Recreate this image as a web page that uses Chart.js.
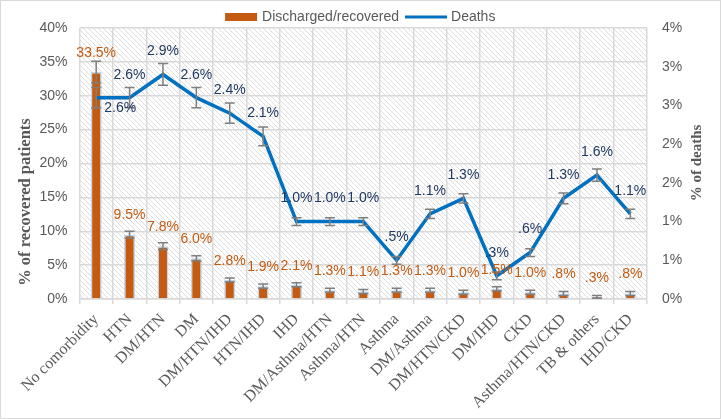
<!DOCTYPE html>
<html>
<head>
<meta charset="utf-8">
<title>Comorbidity outcomes</title>
<script src="https://cdn.jsdelivr.net/npm/chart.js@4.4.1/dist/chart.umd.min.js"></script>
<style>
  html, body { margin: 0; padding: 0; background: #fff; }
  .box { width: 719px; height: 417px; border: 1px solid #d9d9d9; }
  canvas { display: block; }
</style>
</head>
<body>
<div class="box"><canvas id="comorbChart" width="719" height="417"></canvas></div>
<script>
// data
const categories = [
  "No comorbidity", "HTN", "DM/HTN", "DM", "DM/HTN/IHD", "HTN/IHD", "IHD",
  "DM/Asthma/HTN", "Asthma/HTN", "Asthma", "DM/Asthma", "DM/HTN/CKD",
  "DM/IHD", "CKD", "Asthma/HTN/CKD", "TB & others", "IHD/CKD"
];
const recovered = [33.5, 9.5, 7.8, 6.0, 2.8, 1.9, 2.1, 1.3, 1.1, 1.3, 1.3, 1.0, 1.5, 1.0, 0.8, 0.3, 0.8];
const recoveredErr = [1.6, 0.5, 0.5, 0.4, 0.3, 0.3, 0.3, 0.3, 0.3, 0.3, 0.3, 0.3, 0.3, 0.3, 0.3, 0.2, 0.3];
const deaths = [2.6, 2.6, 2.9, 2.6, 2.4, 2.1, 1.0, 1.0, 1.0, 0.5, 1.1, 1.3, 0.3, 0.6, 1.3, 1.6, 1.1];
const deathsErr = [0.13, 0.13, 0.14, 0.13, 0.13, 0.12, 0.05, 0.05, 0.05, 0.05, 0.06, 0.06, 0.05, 0.05, 0.07, 0.08, 0.06];
const leftTicks = { min: 0, max: 40, step: 5 };
const rightTicks = { min: 0, max: 3.5, step: 0.5 };

const ORANGE = "#C55A11";
const BLUE = "#0070C0";
const NAVY = "#203864";
const GREY_TXT = "#595959";
const GRID = "#d9d9d9";
const SANS = "'Liberation Sans', Arial, sans-serif";
const SERIF = "'Liberation Serif', 'Times New Roman', serif";

// percent label like excel: 0.5 -> ".5%", 2.6 -> "2.6%"
const pctLabel = (v) => v.toFixed(1).replace(/^0\./, ".") + "%";

function makeHatch() {
  const c = document.createElement("canvas");
  c.width = 5;
  c.height = 5;
  const g = c.getContext("2d");
  g.strokeStyle = "#dedede";
  g.lineWidth = 1;
  g.beginPath();
  g.moveTo(-1, -1); g.lineTo(6, 6);
  g.moveTo(-1, 4); g.lineTo(1, 6);
  g.moveTo(4, -1); g.lineTo(6, 1);
  g.stroke();
  return c;
}

function errBar(ctx, x, yTop, yBot) {
  ctx.beginPath();
  ctx.moveTo(x, yTop); ctx.lineTo(x, yBot);
  ctx.moveTo(x - 5, yTop); ctx.lineTo(x + 5, yTop);
  ctx.moveTo(x - 5, yBot); ctx.lineTo(x + 5, yBot);
  ctx.stroke();
}

const extras = {
  id: "extras",
  beforeDraw(chart) {
    const { ctx, chartArea: a } = chart;
    ctx.save();
    ctx.fillStyle = ctx.createPattern(makeHatch(), "repeat");
    ctx.fillRect(a.left, a.top, a.right - a.left, a.bottom - a.top);
    ctx.restore();
  },
  afterDatasetDraw(chart, args) {
    const { ctx } = chart;
    const meta = args.meta;
    const isBar = args.index === 0;
    const scale = chart.scales[isBar ? "y" : "y1"];
    const vals = isBar ? recovered : deaths;
    const errs = isBar ? recoveredErr : deathsErr;
    ctx.save();
    ctx.strokeStyle = "#7f7f7f";
    ctx.lineWidth = 1.5;
    meta.data.forEach((el, i) => {
      errBar(ctx, el.x, scale.getPixelForValue(vals[i] + errs[i]), scale.getPixelForValue(vals[i] - errs[i]));
    });
    ctx.restore();
  },
  afterDatasetsDraw(chart) {
    const { ctx } = chart;
    const bars = chart.getDatasetMeta(0).data;
    const pts = chart.getDatasetMeta(1).data;
    ctx.save();
    ctx.font = "14px " + SANS;
    ctx.textAlign = "center";
    ctx.textBaseline = "middle";
    ctx.fillStyle = ORANGE;
    bars.forEach((el, i) => ctx.fillText(pctLabel(recovered[i]), el.x, el.y - 19));
    ctx.fillStyle = NAVY;
    pts.forEach((el, i) => {
      // first label sits to the lower right of its point, the rest above
      if (i === 0) ctx.fillText(pctLabel(deaths[i]), el.x + 24, el.y + 10);
      else ctx.fillText(pctLabel(deaths[i]), el.x, el.y - 23);
    });
    ctx.restore();
  },
  afterDraw(chart) {
    const { ctx, chartArea: a } = chart;
    ctx.save();
    // axis titles
    ctx.fillStyle = GREY_TXT;
    ctx.textAlign = "center";
    ctx.textBaseline = "middle";
    ctx.font = "bold 16.5px " + SERIF;
    ctx.translate(25, 201);
    ctx.rotate(-Math.PI / 2);
    ctx.fillText("% of recovered patients", 0, 0);
    ctx.setTransform(1, 0, 0, 1, 0, 0);
    ctx.font = "bold 15px " + SERIF;
    ctx.translate(696, 162);
    ctx.rotate(-Math.PI / 2);
    ctx.fillText("% of deaths", 0, 0);
    ctx.setTransform(1, 0, 0, 1, 0, 0);

    // legend
    ctx.font = "14px " + SANS;
    ctx.textAlign = "left";
    const l1 = chart.data.datasets[0].label;
    const l2 = chart.data.datasets[1].label;
    const w1 = ctx.measureText(l1).width;
    const w2 = ctx.measureText(l2).width;
    const total = 32 + 5 + w1 + 6 + 42 + 4 + w2;
    let x = (a.left + a.right) / 2 - total / 2 - 3;
    const y = 16;
    ctx.fillStyle = ORANGE;
    ctx.fillRect(x, y - 4, 32, 8);
    x += 37;
    ctx.fillStyle = GREY_TXT;
    ctx.fillText(l1, x, y);
    x += w1 + 6;
    ctx.strokeStyle = BLUE;
    ctx.lineWidth = 3;
    ctx.beginPath();
    ctx.moveTo(x, y); ctx.lineTo(x + 42, y);
    ctx.stroke();
    x += 46;
    ctx.fillText(l2, x, y);
    ctx.restore();
  }
};

const ctx = document.getElementById("comorbChart").getContext("2d");
new Chart(ctx, {
  data: {
    labels: categories,
    datasets: [
      {
        type: "bar",
        label: "Discharged/recovered",
        data: recovered,
        yAxisID: "y",
        backgroundColor: ORANGE,
        borderColor: "#BDD7EE",
        borderWidth: 1.5,
        barPercentage: 0.33,
        categoryPercentage: 1,
        order: 1,
      },
      {
        type: "line",
        label: "Deaths",
        data: deaths,
        yAxisID: "y1",
        borderColor: BLUE,
        backgroundColor: BLUE,
        borderWidth: 3.5,
        pointRadius: 0,
        tension: 0,
        order: 0,
      },
    ],
  },
  options: {
    responsive: false,
    animation: false,
    layout: { padding: { top: 27, left: 0, right: 0, bottom: 0 } },
    plugins: {
      legend: { display: false },
      tooltip: { enabled: false },
    },
    scales: {
      x: {
        offset: true,
        grid: { color: GRID, lineWidth: 1.5, offset: true, tickLength: 5 },
        border: { color: GRID, width: 1.5 },
        ticks: {
          color: GREY_TXT,
          font: { family: SERIF, size: 16 },
          minRotation: 45,
          maxRotation: 45,
          autoSkip: false,
          padding: 6,
        },
        afterFit: (s) => { s.height = 119; },
      },
      y: {
        position: "left",
        min: leftTicks.min,
        max: leftTicks.max,
        grid: { color: GRID, lineWidth: 1.5, drawTicks: false },
        border: { display: false },
        ticks: {
          stepSize: leftTicks.step,
          color: GREY_TXT,
          font: { family: SANS, size: 14 },
          padding: 12,
          callback: (v) => v + "%",
        },
        afterFit: (s) => { s.width = 78.5; },
      },
      y1: {
        position: "right",
        min: rightTicks.min,
        max: rightTicks.max,
        grid: { display: false, drawTicks: false },
        border: { display: false },
        ticks: {
          stepSize: rightTicks.step,
          color: GREY_TXT,
          font: { family: SANS, size: 14 },
          padding: 15,
          callback: (v) => Math.round(v) + "%",
        },
        afterFit: (s) => { s.width = 73; },
      },
    },
  },
  plugins: [extras],
});
</script>
</body>
</html>
